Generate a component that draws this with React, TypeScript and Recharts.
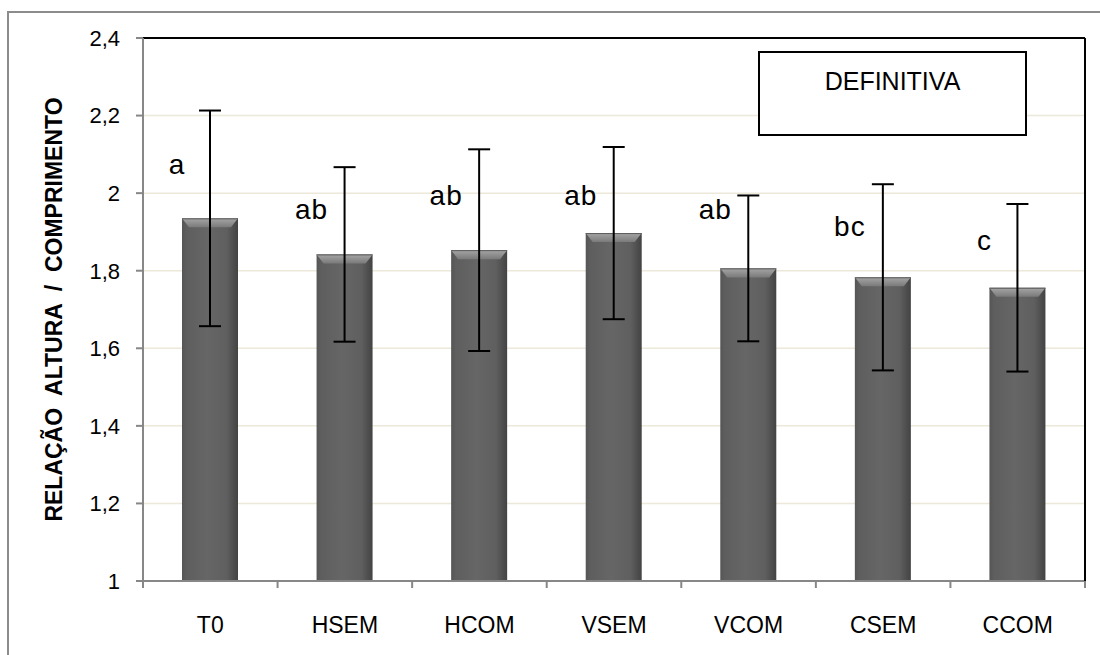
import React from "react"
import {
  ComposedChart,
  Bar,
  XAxis,
  YAxis,
  CartesianGrid,
  ErrorBar,
  LabelList,
  Legend,
} from "recharts"

const categories = ["T0", "HSEM", "HCOM", "VSEM", "VCOM", "CSEM", "CCOM"]
const means = [1.935, 1.842, 1.853, 1.897, 1.806, 1.783, 1.756]
const errors = [0.278, 0.225, 0.26, 0.222, 0.188, 0.24, 0.216]
const letters = ["a", "ab", "ab", "ab", "ab", "bc", "c"]
const letterY = [2.073, 1.957, 1.995, 1.995, 1.957, 1.914, 1.879]
const yTicks = [1, 1.2, 1.4, 1.6, 1.8, 2, 2.2, 2.4]

const chartData = categories.map((name, i) => ({
  name,
  value: means[i],
  err: errors[i],
  letter: letters[i],
  letterY: letterY[i],
}))

const FONT = '"Liberation Sans", Arial, sans-serif'
const AXIS_GRAY = "#878787"

const fmt = (v: number) => String(Number(v.toFixed(1))).replace(".", ",")

function BarShape(props: any) {
  const { x, y, width, height } = props
  if (!width || height <= 0) return null
  const bevel = Math.min(9, height)
  return (
    <g>
      <rect x={x} y={y} width={width} height={height} fill="url(#barBody)" />
      <polygon
        points={`${x},${y} ${x + width},${y} ${x + width - 7},${y + bevel} ${x + 7},${y + bevel}`}
        fill="url(#barTop)"
      />
      <line x1={x} y1={y + 0.5} x2={x + width} y2={y + 0.5} stroke="#5a5a5a" strokeWidth={1} />
    </g>
  )
}

function XTick(props: any) {
  const { x, y, payload, index, visibleTicksCount } = props
  const half = payload?.offset ?? 67.3
  const isLast = index === (visibleTicksCount ?? categories.length) - 1
  return (
    <g>
      <line x1={x - half} y1={y} x2={x - half} y2={y + 7} stroke={AXIS_GRAY} strokeWidth={2} />
      {isLast && (
        <line x1={x + half} y1={y} x2={x + half} y2={y + 7} stroke={AXIS_GRAY} strokeWidth={2} />
      )}
      <text x={x} y={y + 52} textAnchor="middle" fontSize={23} fontFamily={FONT} fill="#000">
        {payload.value}
      </text>
    </g>
  )
}

function YTitle(props: any) {
  const vb = props.viewBox || { x: 63, y: 38, width: 80, height: 543 }
  const cx = vb.x - 9
  const cy = vb.y + vb.height / 2
  return (
    <text
      x={cx}
      y={cy}
      transform={`rotate(-90, ${cx}, ${cy})`}
      textAnchor="middle"
      dominantBaseline="central"
      fontSize={23}
      fontWeight="bold"
      fontFamily={FONT}
      fill="#000"
      style={{ whiteSpace: "pre" }}
    >
      {"RELAÇÃO  ALTURA  /  COMPRIMENTO"}
    </text>
  )
}

function LetterLabel(props: any) {
  const { x, y, width, height, index } = props
  const d = chartData[index]
  if (!d || !height) return null
  const pxPerUnit = height / (d.value - 1)
  const ly = y + height - (d.letterY - 1) * pxPerUnit
  return (
    <text
      x={x + width / 2 - 33}
      y={ly}
      textAnchor="middle"
      dominantBaseline="central"
      fontSize={28}
      letterSpacing={1}
      fontFamily={FONT}
      fill="#000"
    >
      {d.letter}
    </text>
  )
}

function LegendBox({ payload }: any) {
  const label = payload?.[0]?.value ?? "DEFINITIVA"
  return (
    <div
      style={{
        boxSizing: "border-box",
        width: 269,
        height: 85,
        border: "2px solid #000",
        background: "#fff",
        textAlign: "center",
        fontFamily: FONT,
        fontSize: 25,
        lineHeight: "28px",
        paddingTop: 14,
        color: "#000",
      }}
    >
      {label}
    </div>
  )
}

export default function App() {
  return (
    <div
      style={{
        position: "absolute",
        left: 0,
        top: 0,
        width: 1100,
        height: 655,
        background: "#fff",
        overflow: "hidden",
      }}
    >
      <div
        style={{
          position: "absolute",
          left: 7,
          top: 11,
          width: 1100,
          height: 660,
          borderLeft: "2px solid #8c8c8c",
          borderTop: "2px solid #8c8c8c",
        }}
      />
      <ComposedChart
        width={1100}
        height={655}
        data={chartData}
        margin={{ top: 37, right: 14, left: 63, bottom: 24 }}
        style={{ position: "absolute", left: 0, top: 0 }}
      >
        <defs>
          <linearGradient id="barBody" x1="0" y1="0" x2="1" y2="0">
            <stop offset="0%" stopColor="#555555" />
            <stop offset="8%" stopColor="#5e5e5e" />
            <stop offset="45%" stopColor="#666666" />
            <stop offset="80%" stopColor="#5f5f5f" />
            <stop offset="92%" stopColor="#4e4e4e" />
            <stop offset="100%" stopColor="#434343" />
          </linearGradient>
          <linearGradient id="barTop" x1="0" y1="0" x2="0" y2="1">
            <stop offset="0%" stopColor="#a6a6a6" />
            <stop offset="100%" stopColor="#7a7a7a" />
          </linearGradient>
        </defs>
        <CartesianGrid vertical={false} stroke="#ece8da" strokeWidth={1.5} />
        <XAxis
          dataKey="name"
          height={50}
          tickLine={false}
          tickSize={0}
          tickMargin={0}
          axisLine={{ stroke: AXIS_GRAY, strokeWidth: 2 }}
          tick={<XTick />}
          interval={0}
        />
        <XAxis
          xAxisId="top"
          dataKey="name"
          orientation="top"
          height={1}
          tick={false}
          tickLine={false}
          axisLine={{ stroke: "#000", strokeWidth: 2 }}
        />
        <YAxis
          width={80}
          domain={[1, 2.4]}
          ticks={yTicks}
          tickFormatter={fmt}
          tickSize={7}
          tickMargin={16}
          tickLine={{ stroke: AXIS_GRAY, strokeWidth: 2 }}
          axisLine={{ stroke: AXIS_GRAY, strokeWidth: 2 }}
          tick={{ fontSize: 22, fill: "#000", fontFamily: FONT }}
          allowDataOverflow
          label={<YTitle />}
        />
        <YAxis
          yAxisId="right"
          orientation="right"
          width={1}
          domain={[1, 2.4]}
          tick={false}
          tickLine={false}
          axisLine={{ stroke: "#000", strokeWidth: 2 }}
        />
        <Legend
          layout="horizontal"
          verticalAlign="middle"
          align="center"
          content={<LegendBox />}
          wrapperStyle={{ left: 758, top: 51, width: 269, height: 85 }}
        />
        <Bar
          dataKey="value"
          name="DEFINITIVA"
          barSize={56}
          shape={<BarShape />}
          isAnimationActive={false}
        >
          <ErrorBar
            dataKey="err"
            width={11}
            stroke="#000"
            strokeWidth={2}
            direction="y"
            isAnimationActive={false}
          />
          <LabelList dataKey="letter" content={<LetterLabel />} />
        </Bar>
      </ComposedChart>
    </div>
  )
}
